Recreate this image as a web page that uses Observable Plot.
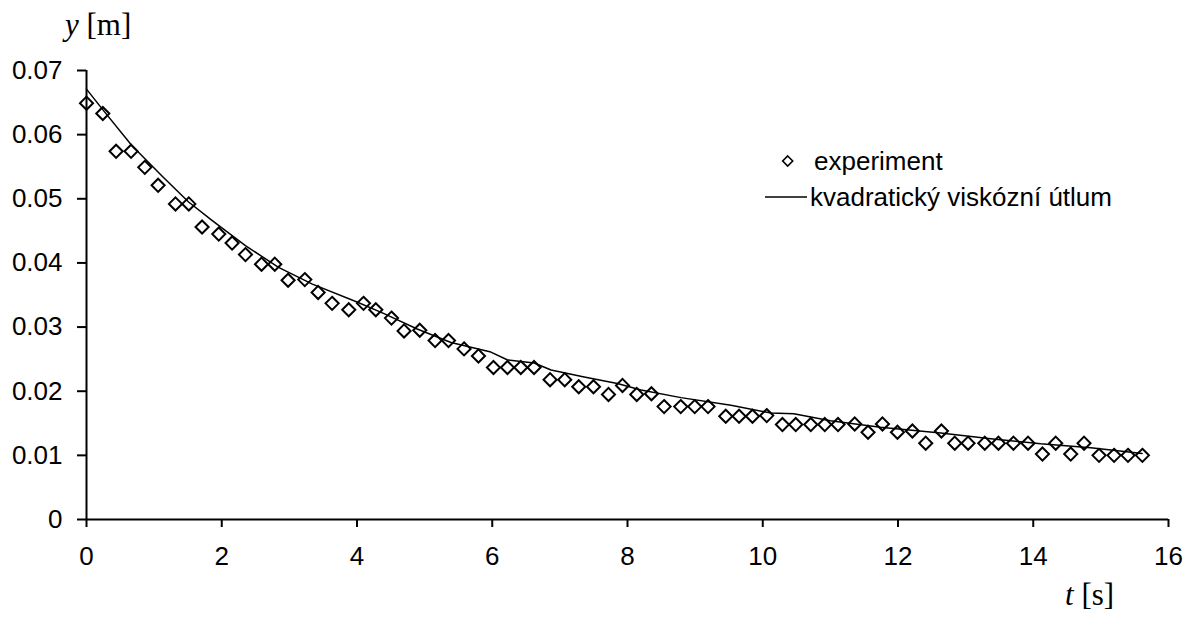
<!DOCTYPE html>
<html>
<head>
<meta charset="utf-8">
<script src="https://cdn.jsdelivr.net/npm/d3@7"></script>
<script src="https://cdn.jsdelivr.net/npm/@observablehq/plot@0.6"></script>
<style>
  html, body { margin: 0; padding: 0; background: white; }
  #chart { width: 1194px; height: 617px; }
</style>
</head>
<body>
<div id="chart"></div>
<script>
// Experiment: time [s]
const tExp = [0, 0.241, 0.438, 0.659, 0.862, 1.059, 1.316, 1.513, 1.709, 1.956,
  2.153, 2.351, 2.588, 2.784, 2.981, 3.228, 3.425, 3.632, 3.878, 4.096,
  4.278, 4.510, 4.696, 4.928, 5.155, 5.353, 5.583, 5.796, 6.018, 6.225,
  6.422, 6.618, 6.855, 7.072, 7.279, 7.497, 7.719, 7.926, 8.137, 8.354,
  8.541, 8.787, 8.994, 9.191, 9.453, 9.650, 9.848, 10.059, 10.291, 10.488,
  10.710, 10.917, 11.113, 11.360, 11.557, 11.770, 11.992, 12.213, 12.410, 12.642,
  12.839, 13.036, 13.283, 13.485, 13.707, 13.923, 14.136, 14.332, 14.554, 14.751,
  14.973, 15.195, 15.401, 15.614];
// Experiment: y [m]
const yExp = [0.0649, 0.0633, 0.0574, 0.0574, 0.0549, 0.0521, 0.0492, 0.0492, 0.0456, 0.0445,
  0.0431, 0.0413, 0.0398, 0.0398, 0.0373, 0.0374, 0.0354, 0.0337, 0.0327, 0.0337,
  0.0327, 0.0314, 0.0294, 0.0295, 0.0279, 0.0279, 0.0266, 0.0255, 0.0237, 0.0237,
  0.0237, 0.0237, 0.0218, 0.0218, 0.0207, 0.0207, 0.0195, 0.0209, 0.0195, 0.0196,
  0.0176, 0.0176, 0.0176, 0.0176, 0.0161, 0.0161, 0.0161, 0.0162, 0.0148, 0.0148,
  0.0148, 0.0148, 0.0148, 0.0149, 0.0136, 0.0149, 0.0136, 0.0138, 0.0119, 0.0138,
  0.0119, 0.0119, 0.0119, 0.0119, 0.0119, 0.0119, 0.0102, 0.0119, 0.0102, 0.0119,
  0.0100, 0.0100, 0.0100, 0.0100];
// Model: kvadratický viskózní útlum
const tModel = [0, 0.24, 0.67, 1.12, 1.51, 1.86, 2.35, 2.84, 3.34, 4.0,
  4.40, 4.89, 5.39, 5.98, 6.22, 6.62, 6.87, 7.36, 7.85, 8.20,
  8.79, 9.53, 10.12, 10.46, 11.0, 11.74, 12.63, 13.37, 14.11, 14.85, 15.61];
const yModel = [0.0671, 0.0639, 0.0583, 0.0535, 0.0495, 0.0466, 0.0427, 0.0393, 0.0367, 0.0339,
  0.0321, 0.0297, 0.0276, 0.0261, 0.0249, 0.0244, 0.0233, 0.0222, 0.0212, 0.0202,
  0.0190, 0.0178, 0.0166, 0.0165, 0.0154, 0.0144, 0.0135, 0.0126, 0.0118, 0.0112, 0.0103];

const xTicks = [0, 2, 4, 6, 8, 10, 12, 14, 16];
const xTickLabels = ["0", "2", "4", "6", "8", "10", "12", "14", "16"];
const yTicks = [0, 0.01, 0.02, 0.03, 0.04, 0.05, 0.06, 0.07];
const yTickLabels = ["0", "0.01", "0.02", "0.03", "0.04", "0.05", "0.06", "0.07"];
const seriesNames = ["experiment", "kvadratický viskózní útlum"];

const expData = tExp.map((t, i) => ({t, y: yExp[i]}));
const modelData = tModel.map((t, i) => ({t, y: yModel[i]}));

const chart = Plot.plot({
  width: 1194,
  height: 617,
  marginLeft: 86,
  marginRight: 26,
  marginTop: 70,
  marginBottom: 98,
  style: {fontFamily: "'Liberation Sans', Arial, sans-serif", fontSize: "26px", color: "black", background: "white"},
  x: {domain: [0, 16]},
  y: {domain: [0, 0.07]},
  marks: [
    Plot.axisX({ticks: xTicks, tickSize: 8, tickPadding: 19, tickFormat: d => xTickLabels[xTicks.indexOf(d)], label: null, strokeWidth: 2, fontSize: 26}),
    Plot.axisY({ticks: yTicks, tickSize: 9, tickPadding: 15, tickFormat: d => yTickLabels[yTicks.indexOf(d)], label: null, strokeWidth: 2, fontSize: 26}),
    Plot.ruleX([0], {stroke: "black", strokeWidth: 2}),
    Plot.ruleY([0], {stroke: "black", strokeWidth: 2}),
    Plot.line(modelData, {x: "t", y: "y", stroke: "black", strokeWidth: 1.5}),
    Plot.dot(expData, {x: "t", y: "y", symbol: "diamond2", r: 5.9, stroke: "black", strokeWidth: 2, fill: "none"})
  ]
});
document.getElementById("chart").appendChild(chart);

// Axis titles and legend
const svg = d3.select(chart);
const serif = "'Liberation Serif', 'Times New Roman', serif";
const yl = svg.append("text").attr("x", 65).attr("y", 35).attr("text-anchor", "start").attr("font-family", serif).attr("font-size", 31).attr("fill", "black");
yl.append("tspan").attr("font-style", "italic").text("y");
yl.append("tspan").text(" [m]");
const xl = svg.append("text").attr("x", 1065).attr("y", 605).attr("text-anchor", "start").attr("font-family", serif).attr("font-size", 31).attr("fill", "black");
xl.append("tspan").attr("font-style", "italic").text("t");
xl.append("tspan").text(" [s]");

const lg = svg.append("g").attr("font-family", "'Liberation Sans', Arial, sans-serif").attr("font-size", 26).attr("fill", "black").attr("text-anchor", "start");
lg.append("path").attr("d", d3.symbol(d3.symbolDiamond2, 64)()).attr("transform", "translate(787.7,161)")
  .attr("fill", "none").attr("stroke", "black").attr("stroke-width", 1.6);
lg.append("text").attr("x", 814).attr("y", 161).attr("dy", "0.35em").text(seriesNames[0]);
lg.append("line").attr("x1", 765).attr("x2", 807).attr("y1", 197).attr("y2", 197).attr("stroke", "black").attr("stroke-width", 1.5);
lg.append("text").attr("x", 810).attr("y", 197).attr("dy", "0.35em").text(seriesNames[1]);
</script>
</body>
</html>
